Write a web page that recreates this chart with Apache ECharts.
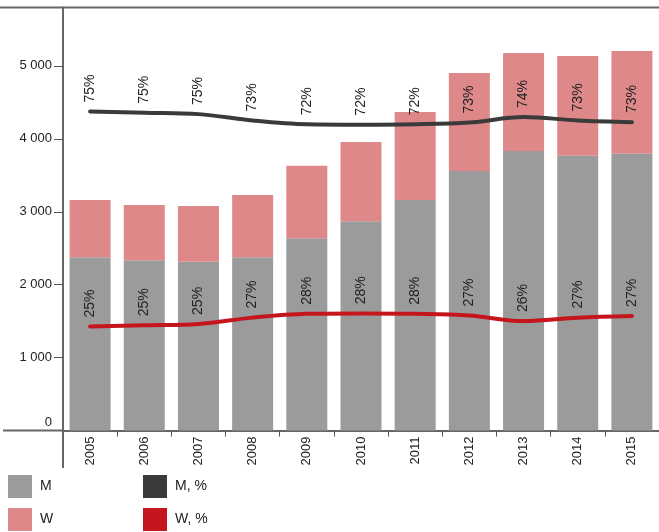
<!DOCTYPE html>
<html>
<head>
<meta charset="utf-8">
<script src="https://cdn.jsdelivr.net/npm/echarts@6/dist/echarts.min.js"></script>
<style>
  html, body { margin: 0; padding: 0; background: #fff; }
  #chart { width: 659px; height: 532px; }
</style>
</head>
<body>
<div id="chart"></div>
<script>
// data
var years = ["2005", "2006", "2007", "2008", "2009", "2010", "2011", "2012", "2013", "2014", "2015"];
var menCount = [2375, 2334, 2315, 2375, 2636, 2869, 3161, 3558, 3832, 3768, 3795];
var womenCount = [785, 758, 763, 854, 995, 1087, 1206, 1343, 1343, 1366, 1408];
var menShare = [75.4, 75.1, 74.8, 73.3, 72.4, 72.3, 72.4, 72.8, 74.1, 73.3, 72.9];
var womenShare = [24.6, 24.9, 25.2, 26.7, 27.6, 27.7, 27.6, 27.2, 25.9, 26.7, 27.1];
var yTicks = [0, 1000, 2000, 3000, 4000, 5000];

var GRID_LEFT = 63;
var GRID_TOP = 7.5;
var GRID_BOTTOM = 101.4; // 532 - 430.6
var AXIS_Y = 532 - GRID_BOTTOM;
var FONT = "Liberation Sans, Arial, sans-serif";

var chart = echarts.init(document.getElementById("chart"));

function fmtThousands(v) {
  return String(v).replace(/\B(?=(\d{3})+(?!\d))/g, " ");
}

var shareLabel = {
  show: true,
  position: "top",
  distance: 9,
  rotate: 90,
  align: "left",
  verticalAlign: "middle",
  fontSize: 14,
  fontFamily: FONT,
  color: "#222",
  formatter: function (p) {
    return Math.round(p.value) + "%";
  }
};

function legendAt(name, left, top) {
  return {
    data: [{ name: name, icon: "rect" }],
    left: left,
    top: top,
    padding: 0,
    itemWidth: 24,
    itemHeight: 23,
    selectedMode: false,
    textStyle: { fontSize: 14, fontFamily: FONT, color: "#222", padding: [0, 0, 0, 3] }
  };
}

chart.setOption({
  animation: false,
  textStyle: { fontFamily: FONT },
  grid: {
    left: GRID_LEFT,
    top: GRID_TOP,
    width: 600,
    bottom: GRID_BOTTOM,
    containLabel: false
  },
  legend: [
    legendAt("M", 8, 475),
    legendAt("M, %", 143, 475),
    legendAt("W", 8, 508),
    legendAt("W, %", 143, 508)
  ],
  xAxis: {
    type: "category",
    data: years,
    axisLine: { lineStyle: { color: "#666", width: 2 } },
    axisTick: { show: true, length: 6, interval: 0, lineStyle: { color: "#555", width: 1 } },
    axisLabel: {
      rotate: 90,
      margin: 6,
      interval: 0,
      fontSize: 13,
      fontFamily: FONT,
      color: "#222"
    }
  },
  yAxis: [
    {
      type: "value",
      min: 0,
      max: 5800,
      interval: 1000,
      axisLine: { show: true, lineStyle: { color: "#666", width: 2 } },
      axisTick: { show: true, length: 9, lineStyle: { color: "#555", width: 1 } },
      splitLine: { show: false },
      axisLabel: {
        margin: 11,
        fontSize: 13,
        fontFamily: FONT,
        color: "#222",
        formatter: function (v) {
          if (yTicks.indexOf(v) < 0) return "";
          if (v === 0) return "{zero|0}";
          return fmtThousands(v);
        },
        rich: {
          zero: { fontSize: 13, fontFamily: FONT, color: "#222", padding: [0, 0, 17, 0] }
        }
      }
    },
    {
      type: "value",
      min: 0,
      max: 100,
      show: false,
      splitLine: { show: false }
    }
  ],
  series: [
    {
      name: "M",
      type: "bar",
      stack: "total",
      barWidth: 41,
      color: "#9b9b9b",
      data: menCount
    },
    {
      name: "W",
      type: "bar",
      stack: "total",
      barWidth: 41,
      color: "#df8889",
      data: womenCount
    },
    {
      name: "M, %",
      type: "line",
      yAxisIndex: 1,
      smooth: 0.35,
      symbol: "circle",
      symbolSize: 0.1,
      showSymbol: true,
      color: "#3a3a3a",
      lineStyle: { width: 4, color: "#3a3a3a", cap: "round" },
      label: shareLabel,
      data: menShare
    },
    {
      name: "W, %",
      type: "line",
      yAxisIndex: 1,
      smooth: 0.35,
      symbol: "circle",
      symbolSize: 0.1,
      showSymbol: true,
      color: "#c4161c",
      lineStyle: { width: 4, color: "#c4161c", cap: "round" },
      label: shareLabel,
      data: womenShare
    }
  ],
  graphic: [
    {
      type: "line",
      z: 10,
      shape: { x1: 0, y1: GRID_TOP, x2: 659, y2: GRID_TOP },
      style: { stroke: "#666", lineWidth: 2 }
    },
    {
      type: "line",
      z: 10,
      shape: { x1: 3, y1: AXIS_Y, x2: GRID_LEFT, y2: AXIS_Y },
      style: { stroke: "#666", lineWidth: 2 }
    },
    {
      type: "line",
      z: 10,
      shape: { x1: GRID_LEFT, y1: AXIS_Y, x2: GRID_LEFT, y2: 468 },
      style: { stroke: "#666", lineWidth: 2 }
    }
  ]
});
</script>
</body>
</html>
